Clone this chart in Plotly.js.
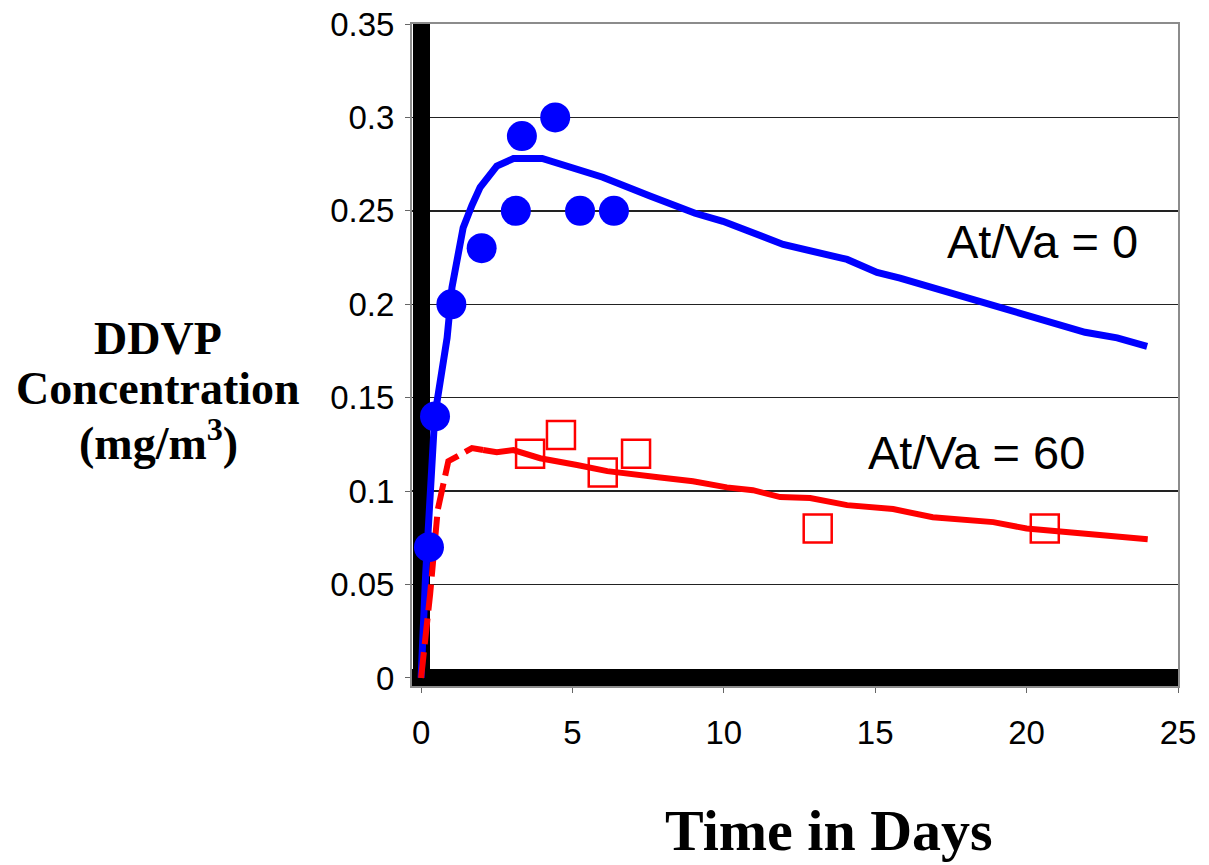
<!DOCTYPE html>
<html>
<head>
<meta charset="utf-8">
<script src="https://cdn.plot.ly/plotly-3.0.1.min.js"></script>
<style>html,body{margin:0;padding:0;background:#fff;}#chart{width:1209px;height:865px;}</style>
</head>
<body>
<div id="chart"></div>
<script>
// Model curve, At/Va = 0
const modelX0 = [0, 0.15, 0.45, 0.86, 1.02, 1.39, 1.68, 1.95, 2.5, 3.05, 4.0, 6.0, 7.56, 9.05, 9.97, 11.96, 14.07, 15.06, 15.82, 18.0, 21.93, 22.99, 23.98];
const modelY0 = [0, 0.055, 0.14, 0.182, 0.209, 0.241, 0.253, 0.2626, 0.274, 0.278, 0.278, 0.268, 0.258, 0.2487, 0.2444, 0.232, 0.224, 0.217, 0.214, 0.204, 0.185, 0.182, 0.1775];
// Model curve, At/Va = 60 (dashed early part, then solid)
const modelX60a = [0, 0.3, 0.55, 0.9, 1.68, 2.05];
const modelY60a = [0, 0.045, 0.09, 0.116, 0.123, 0.122];
const modelX60b = [2.05, 2.5, 3.05, 3.93, 5.15, 6.15, 7.9, 8.98, 10.1, 10.96, 11.86, 12.85, 14.07, 15.59, 16.9, 18.9, 20.0, 21.86, 24.0];
const modelY60b = [0.122, 0.1208, 0.122, 0.1176, 0.114, 0.1107, 0.1073, 0.1053, 0.102, 0.1005, 0.0968, 0.0963, 0.0925, 0.0904, 0.086, 0.0834, 0.080, 0.077, 0.0743];
// Measured data
const obsX0 = [0.26, 0.46, 1.0, 2.0, 3.13, 3.33, 4.43, 5.25, 6.37];
const obsY0 = [0.07, 0.14, 0.2, 0.23, 0.25, 0.29, 0.30, 0.25, 0.25];
const obsX60 = [3.6, 4.62, 6.0, 7.1, 13.1, 20.6];
const obsY60 = [0.12, 0.13, 0.11, 0.12, 0.08, 0.08];
// Labels
const xTitle = 'Time in Days';
const yTitleLines = ['DDVP', 'Concentration', '(mg/m<sup>3</sup>)'];
const label0 = 'At/Va = 0';
const label60 = 'At/Va = 60';
const xTicks = [0, 5, 10, 15, 20, 25];
const yTicks = [0, 0.05, 0.1, 0.15, 0.2, 0.25, 0.3, 0.35];

const traces = [
  {x: modelX0, y: modelY0, mode: 'lines', line: {color: '#0000ff', width: 7}, hoverinfo: 'skip'},
  {x: modelX60a, y: modelY60a, mode: 'lines', line: {color: '#ff0000', width: 6, dash: '26px,8px'}, hoverinfo: 'skip'},
  {x: modelX60b, y: modelY60b, mode: 'lines', line: {color: '#ff0000', width: 6}, hoverinfo: 'skip'},
  {x: obsX0, y: obsY0, mode: 'markers', marker: {symbol: 'circle', size: 30, color: '#0000ff'}},
  {x: obsX60, y: obsY60, mode: 'markers', marker: {symbol: 'square-open', size: 28, color: '#ff0000', line: {color: '#ff0000', width: 2.5}}}
];

const tickFont = {family: 'Liberation Sans, Arial, sans-serif', size: 33, color: '#000'};
const serifBold = {family: 'Liberation Serif, Times New Roman, serif', color: '#000', weight: 'bold'};

// paper-coordinate helpers from pixel positions (plot area: l=412, r=1178, t=24, b=686)
const px = v => (v - 412) / 766;
const py = v => (686 - v) / 662;

const yTitleCenters = [338, 388, 440];
const annotations = [
  {xref: 'paper', yref: 'paper', x: px(829), y: py(830), xanchor: 'center', yanchor: 'middle',
   text: xTitle, showarrow: false, font: Object.assign({size: 58}, serifBold)}
];
yTitleLines.forEach((t, i) => annotations.push({
  xref: 'paper', yref: 'paper', x: px(158), y: py(yTitleCenters[i]), xanchor: 'center', yanchor: 'middle',
  text: t, showarrow: false, font: Object.assign({size: 46}, serifBold)
}));
annotations.push(
  {xref: 'x', yref: 'y', x: 17.3, y: 0.2334, xanchor: 'left', yanchor: 'middle',
   text: label0, showarrow: false, font: {family: 'Liberation Sans, Arial', size: 47, color: '#000'}},
  {xref: 'x', yref: 'y', x: 14.7, y: 0.1206, xanchor: 'left', yanchor: 'middle',
   text: label60, showarrow: false, font: {family: 'Liberation Sans, Arial', size: 47, color: '#000'}}
);

const layout = {
  width: 1209, height: 865,
  margin: {l: 412, r: 31, t: 24, b: 179},
  paper_bgcolor: '#fff', plot_bgcolor: '#fff',
  showlegend: false,
  xaxis: {
    range: [-0.3, 25], tickvals: xTicks, ticktext: xTicks.map(String),
    showgrid: false,
    zeroline: true, zerolinecolor: '#000', zerolinewidth: 17,
    showline: true, linecolor: '#8c8c8c', linewidth: 2, mirror: true,
    ticks: 'outside', ticklen: 5, tickcolor: '#666', tickwidth: 1,
    tickfont: tickFont, ticklabelstandoff: 11
  },
  yaxis: {
    range: [-0.0043, 0.35], tickvals: yTicks, ticktext: yTicks.map(v => String(v)),
    showgrid: true, gridcolor: '#222', gridwidth: 1.3,
    zeroline: true, zerolinecolor: '#000', zerolinewidth: 17,
    showline: true, linecolor: '#8c8c8c', linewidth: 2, mirror: true,
    ticks: 'outside', ticklen: 5, tickcolor: '#666', tickwidth: 1,
    tickfont: tickFont, ticklabelstandoff: 4
  },
  annotations: annotations
};

Plotly.newPlot('chart', traces, layout, {displayModeBar: false, staticPlot: true});
</script>
</body>
</html>
